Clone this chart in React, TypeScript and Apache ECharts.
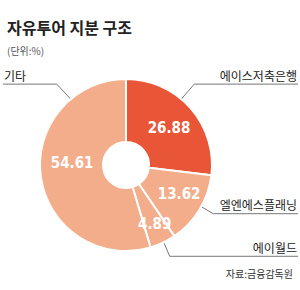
import React, { useEffect, useRef } from "react";
import * as echarts from "echarts";

// ---- data ----
const holders = ["에이스저축은행", "엘엔에스플래닝", "에이월드", "기타"];
const shares = [26.88, 13.62, 4.89, 54.61];
const titleText = "자유투어 지분 구조";
const unitText = "(단위:%)";
const sourceText = "자료:금융감독원";

// ---- styles / layout ----
const W = 300;
const H = 290;
const CX = 126;
const CY = 165;
const R_IN = 23;
const R_OUT = 86;
const DARK = "#E85637";
const LIGHT = "#F3AD8B";
const sliceColors = [DARK, LIGHT, LIGHT, LIGHT];
const FONT = '"Noto Sans CJK KR", "Noto Sans", sans-serif';
const NUM_FONT = '"DejaVu Sans Condensed", "Liberation Sans Narrow", "Roboto", sans-serif';
// value label nudges
const valueNudge = [
  [0, 1],
  [4, -1],
  [4, 7],
  [3, -10],
];
// leader lines: angle (deg clockwise from 12 o'clock), elbow offset
const leaderAngle = [40, 119, 154, 320];
const leaderElbow = [
  [13, -15],
  [12, 7],
  [6, 14],
  [-14, -15],
];
const LEADER_R = 86;

export default function App() {
  const ref = useRef<HTMLDivElement>(null);

  useEffect(() => {
    if (!ref.current) return;
    const chart = echarts.init(ref.current, null, { renderer: "svg", width: W, height: H });
    const data = holders.map((n, i) => ({
      name: n,
      value: shares[i],
      itemStyle: { color: sliceColors[i] },
    }));
    chart.setOption({
      animation: false,
      backgroundColor: "#ffffff",
      title: [
        {
          text: titleText,
          left: 2,
          top: 14,
          textStyle: { fontFamily: FONT, fontSize: 16, fontWeight: "bold", color: "#222" },
        },
        {
          text: unitText,
          left: 2,
          top: 40,
          textStyle: { fontFamily: FONT, fontSize: 10, fontWeight: "normal", color: "#555" },
        },
        {
          text: sourceText,
          right: 2,
          top: 263,
          textStyle: { fontFamily: FONT, fontSize: 10, fontWeight: "normal", color: "#333" },
        },
      ],
      series: [
        {
          type: "pie",
          center: [CX, CY],
          radius: [R_IN, R_OUT],
          startAngle: 90,
          clockwise: true,
          silent: true,
          avoidLabelOverlap: false,
          itemStyle: { borderColor: "#ffffff", borderWidth: 2 },
          label: {
            show: true,
            position: "inside",
            formatter: (p: any) => Number(p.value).toFixed(2),
            color: "#ffffff",
            fontFamily: NUM_FONT,
            fontSize: 15,
            fontWeight: "bold",
          },
          labelLine: { show: false },
          labelLayout: (p: any) => {
            const n = valueNudge[p.dataIndex] || [0, 0];
            return { dx: n[0], dy: n[1] };
          },
          data,
        },
        {
          type: "pie",
          center: [CX, CY],
          radius: [R_IN, R_OUT],
          startAngle: 90,
          clockwise: true,
          silent: true,
          avoidLabelOverlap: false,
          itemStyle: { color: "rgba(0,0,0,0)", borderWidth: 0 },
          label: {
            show: true,
            position: "outside",
            formatter: "{b}",
            color: "#222",
            fontFamily: FONT,
            fontSize: 12,
          },
          labelLine: {
            show: true,
            length: 10,
            length2: 10,
            lineStyle: { color: "#777", width: 1 },
          },
          labelLayout: (p: any) => {
            const i = p.dataIndex;
            const a = (leaderAngle[i] * Math.PI) / 180;
            const x0 = CX + LEADER_R * Math.sin(a);
            const y0 = CY - LEADER_R * Math.cos(a);
            const x1 = x0 + leaderElbow[i][0];
            const y1 = y0 + leaderElbow[i][1];
            const right = leaderElbow[i][0] > 0;
            const x2 = right ? W - 2 : 3;
            return {
              x: right ? W - 3 : 4,
              y: y1 - 3,
              align: right ? "right" : "left",
              verticalAlign: "bottom",
              labelLinePoints: [
                [x0, y0],
                [x1, y1],
                [x2, y1],
              ],
            };
          },
          data: holders.map((n, i) => ({ name: n, value: shares[i] })),
        },
      ],
    });
    return () => chart.dispose();
  }, []);

  return (
    <div
      ref={ref}
      style={{ position: "fixed", left: 0, top: 0, width: W, height: H, background: "#fff" }}
    />
  );
}
